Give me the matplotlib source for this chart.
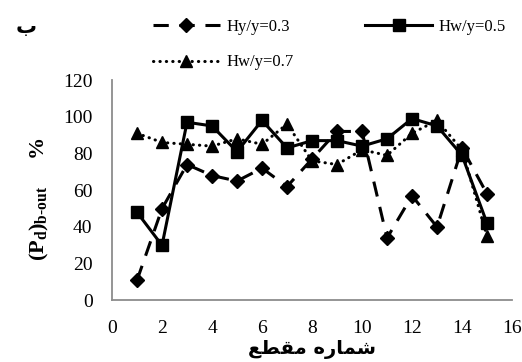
import matplotlib
matplotlib.use("Agg")
import matplotlib.pyplot as plt

plt.rcParams['font.family'] = ['Liberation Serif', 'DejaVu Sans']
plt.rcParams['mathtext.fontset'] = 'custom'
plt.rcParams['mathtext.rm'] = 'Liberation Serif'
plt.rcParams['mathtext.bf'] = 'Liberation Serif:bold'
plt.rcParams['mathtext.it'] = 'Liberation Serif:italic'

# section number
sections = [1, 2, 3, 4, 5, 6, 7, 8, 9, 10, 11, 12, 13, 14, 15]
h03 = [11, 50, 74, 68, 65, 72, 62, 77, 92, 92, 34, 57, 40, 83, 58]
h05 = [48, 30, 97, 95, 81, 98, 83, 87, 87, 84, 88, 99, 95, 79, 42]
h07 = [91, 86, 85, 84, 88, 85, 96, 76, 74, 82, 79, 91, 98, 82, 35]

labels = ["Hy/y=0.3", "Hw/y=0.5", "Hw/y=0.7"]
xticks = [0, 2, 4, 6, 8, 10, 12, 14, 16]
yticks = [0, 20, 40, 60, 80, 100, 120]

# Arabic written in presentation forms, visual order (no shaping engine available)
xlabel_fa = "\ufeca\ufec4\ufed8\ufee3 \ufee9\ufead\ufe8e\ufee4\ufeb7"
panel_fa = "\u0628"

fig = plt.figure(figsize=(5.22, 3.62), dpi=100)
ax = fig.add_axes([0.2146, 0.170, 0.7663, 0.609])

l1, = ax.plot(sections, h03, color='black', lw=2.2, linestyle=(0, (5, 3.5)),
              marker='D', markersize=7, label=labels[0])
l2, = ax.plot(sections, h05, color='black', lw=2.2, linestyle='-',
              marker='s', markersize=8, label=labels[1])
l3, = ax.plot(sections, h07, color='black', lw=2.2, linestyle=(0, (0.1, 2.0)),
              dash_capstyle='round', marker='^', markersize=8, label=labels[2])

ax.set_xlim(0, 16)
ax.set_ylim(0, 120)
ax.set_xticks(xticks)
ax.set_yticks(yticks)
ax.tick_params(length=0, labelsize=14, pad=14)
for s in ['top', 'right']:
    ax.spines[s].set_visible(False)
for s in ['left', 'bottom']:
    ax.spines[s].set_color('#8c8c8c')
    ax.spines[s].set_linewidth(1.3)

ax.set_ylabel("$\\mathbf{(P_d)_{b\u2010out}}$     %", fontsize=16, fontweight='bold')
ax.yaxis.set_label_coords(-0.153, 0.46)
ax.set_xlabel(xlabel_fa, fontsize=14, fontweight='bold', family='DejaVu Sans',
              labelpad=2)

fig.text(0.03, 0.925, panel_fa, fontsize=15, fontweight='bold', family='DejaVu Sans',
         ha='left', va='center')

fig.legend([l1, l3, l2], [labels[0], labels[2], labels[1]], ncol=2,
           loc='upper left', bbox_to_anchor=(0.293, 0.947), frameon=False,
           fontsize=12, handlelength=4.0, handletextpad=0.4, columnspacing=4.3,
           labelspacing=1.15, borderpad=0, borderaxespad=0)

fig.savefig("out.png", dpi=100)
